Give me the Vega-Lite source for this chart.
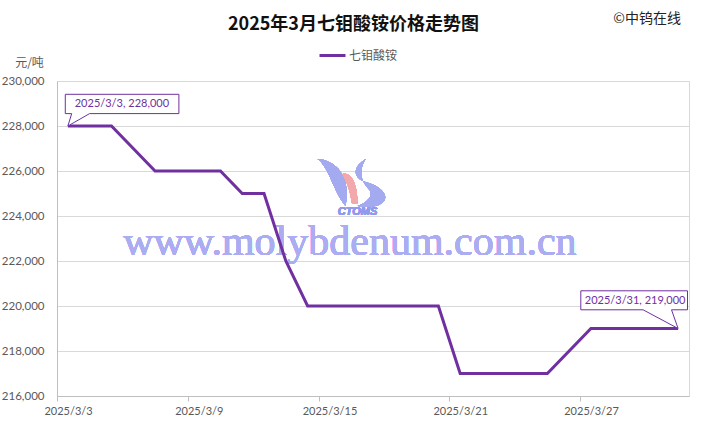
{
  "$schema": "https://vega.github.io/schema/vega-lite/v6.json",
  "width": 632,
  "height": 315,
  "autosize": "none",
  "padding": {"left": 57, "top": 81, "right": 21, "bottom": 31},
  "background": "white",
  "title": {
    "text": "2025年3月七钼酸铵价格走势图",
    "font": "Noto Sans CJK SC",
    "fontSize": 18,
    "fontWeight": "bold",
    "color": "#111111",
    "anchor": "middle",
    "frame": "bounds",
    "dx": 8,
    "dy": 26
  },
  "data": {
    "values": [
      {"date": "2025-03-03T12:00:00", "price": 228000},
      {"date": "2025-03-05T12:00:00", "price": 228000},
      {"date": "2025-03-07T12:00:00", "price": 226000},
      {"date": "2025-03-10T12:00:00", "price": 226000},
      {"date": "2025-03-11T12:00:00", "price": 225000},
      {"date": "2025-03-12T12:00:00", "price": 225000},
      {"date": "2025-03-13T12:00:00", "price": 222000},
      {"date": "2025-03-14T12:00:00", "price": 220000},
      {"date": "2025-03-20T12:00:00", "price": 220000},
      {"date": "2025-03-21T12:00:00", "price": 217000},
      {"date": "2025-03-25T12:00:00", "price": 217000},
      {"date": "2025-03-27T12:00:00", "price": 219000},
      {"date": "2025-03-31T12:00:00", "price": 219000}
    ]
  },
  "encoding": {
    "x": {
      "field": "date",
      "type": "temporal",
      "scale": {
        "domain": [
          {"year": 2025, "month": 3, "date": 3},
          {"year": 2025, "month": 4, "date": 1}
        ]
      },
      "axis": {
        "title": null,
        "values": [
          {"year": 2025, "month": 3, "date": 3},
          {"year": 2025, "month": 3, "date": 9},
          {"year": 2025, "month": 3, "date": 15},
          {"year": 2025, "month": 3, "date": 21},
          {"year": 2025, "month": 3, "date": 27}
        ],
        "format": "%Y/%-m/%-d",
        "labelOffset": 11,
        "labelFlush": false,
        "labelOverlap": false,
        "tickSize": 5,
        "labelPadding": 4,
        "labelFontSize": 11,
        "grid": false
      }
    },
    "y": {
      "field": "price",
      "type": "quantitative",
      "scale": {"domain": [216000, 230000], "nice": false, "zero": false},
      "axis": {
        "values": [216000, 218000, 220000, 222000, 224000, 226000, 228000, 230000],
        "format": ",d",
        "ticks": false,
        "labelPadding": 13,
        "labelFontSize": 11.5,
        "title": "元/吨",
        "titleAngle": 0,
        "titleX": -28,
        "titleY": -19,
        "titleAlign": "center",
        "titleBaseline": "middle",
        "titleFont": "Noto Sans CJK SC",
        "titleFontSize": 12,
        "titleFontWeight": "normal",
        "titleColor": "#595959"
      }
    }
  },
  "layer": [
    {
      "mark": {
        "type": "text",
        "text": "www.molybdenum.com.cn",
        "font": "Liberation Serif",
        "fontSize": 42,
        "color": "#acacf3",
        "baseline": "alphabetic",
        "align": "center"
      },
      "encoding": {
        "x": {"datum": {"year": 2025, "month": 3, "date": 16, "hours": 10, "minutes": 30}, "type": "temporal"},
        "y": {"datum": 222250}
      }
    },
    {
      "mark": {
        "type": "point",
        "shape": "M-0.40,-0.53 C-0.22,-0.52 -0.06,-0.36 -0.12,-0.06 C-0.24,-0.20 -0.28,-0.44 -0.40,-0.53 Z M0.08,-0.53 C-0.06,-0.44 -0.04,-0.34 0.08,-0.30 C0.30,-0.24 0.34,-0.10 0.18,-0.06 C0.12,-0.04 0.06,-0.05 0,-0.06 C0.10,-0.10 0.16,-0.16 0.12,-0.22 C0.08,-0.27 -0.02,-0.36 0.08,-0.53 Z",
        "size": 40000,
        "filled": true,
        "fill": "#a3aaf0",
        "strokeWidth": 0,
        "opacity": 0.9
      },
      "encoding": {
        "x": {"datum": {"year": 2025, "month": 3, "date": 16, "hours": 19}, "type": "temporal"},
        "y": {"datum": 224180}
      }
    },
    {
      "mark": {
        "type": "point",
        "shape": "M-0.15,-0.38 C-0.07,-0.40 0,-0.30 0,-0.08 L-0.06,-0.09 C-0.07,-0.20 -0.10,-0.28 -0.15,-0.38 Z",
        "size": 40000,
        "filled": true,
        "fill": "#f3a7ab",
        "strokeWidth": 0,
        "opacity": 0.9
      },
      "encoding": {
        "x": {"datum": {"year": 2025, "month": 3, "date": 16, "hours": 19}, "type": "temporal"},
        "y": {"datum": 224180}
      }
    },
    {
      "mark": {
        "type": "text",
        "text": "CTOMS",
        "font": "Liberation Sans",
        "fontSize": 11,
        "fontWeight": "bold",
        "fontStyle": "italic",
        "color": "#929aee",
        "baseline": "middle",
        "align": "center"
      },
      "encoding": {
        "x": {"datum": {"year": 2025, "month": 3, "date": 16, "hours": 19}, "type": "temporal"},
        "y": {"datum": 224180}
      }
    },
    {
      "mark": {"type": "line", "strokeWidth": 3, "interpolate": "linear"},
      "encoding": {
        "color": {
          "datum": "七钼酸铵",
          "scale": {"range": ["#7030a0"]},
          "legend": {
            "orient": "none",
            "legendX": 261,
            "legendY": -40,
            "title": null,
            "padding": 0,
            "symbolType": "stroke",
            "symbolStrokeWidth": 3,
            "symbolSize": 676,
            "labelFont": "Noto Sans CJK SC",
            "labelFontSize": 12,
            "labelColor": "#595959",
            "labelOffset": 2
          }
        }
      }
    },
    {
      "transform": [{"filter": "date(datum.date) == 3"}],
      "mark": {
        "type": "point",
        "shape": "M-0.026,-0.317 H1.11 V-0.124 H0.217 L0,0 L0.038,-0.124 H-0.026 Z",
        "size": 40000,
        "filled": true,
        "fill": "white",
        "stroke": "#7030a0",
        "strokeWidth": 1,
        "opacity": 1
      }
    },
    {
      "transform": [{"filter": "date(datum.date) == 3"}],
      "mark": {
        "type": "text",
        "font": "Lato",
        "fontSize": 11,
        "color": "#7030a0",
        "dx": 54,
        "dy": -22,
        "align": "center",
        "baseline": "middle"
      },
      "encoding": {
        "text": {"value": "2025/3/3, 228,000"}
      }
    },
    {
      "transform": [{"filter": "date(datum.date) == 31"}],
      "mark": {
        "type": "point",
        "shape": "M-0.973,-0.377 H0.094 V-0.187 H-0.066 L0,0 L-0.35,-0.187 H-0.973 Z",
        "size": 40000,
        "filled": true,
        "fill": "white",
        "stroke": "#7030a0",
        "strokeWidth": 1,
        "opacity": 1
      }
    },
    {
      "transform": [{"filter": "date(datum.date) == 31"}],
      "mark": {
        "type": "text",
        "font": "Lato",
        "fontSize": 11,
        "color": "#7030a0",
        "dx": -43,
        "dy": -28,
        "align": "center",
        "baseline": "middle"
      },
      "encoding": {
        "text": {"value": "2025/3/31, 219,000"}
      }
    },
    {
      "transform": [{"filter": "date(datum.date) == 31"}],
      "mark": {
        "type": "text",
        "text": "©中钨在线",
        "font": "Noto Sans CJK SC",
        "fontSize": 14,
        "color": "#222222",
        "dx": -31,
        "align": "center",
        "baseline": "middle"
      },
      "encoding": {
        "y": {"datum": 230000},
        "yOffset": {"value": -62}
      }
    }
  ],
  "config": {
    "view": {"stroke": "#d9d9d9"},
    "axis": {
      "domainColor": "#bfbfbf",
      "tickColor": "#bfbfbf",
      "gridColor": "#d9d9d9",
      "labelColor": "#595959",
      "labelFont": "Lato"
    }
  }
}
